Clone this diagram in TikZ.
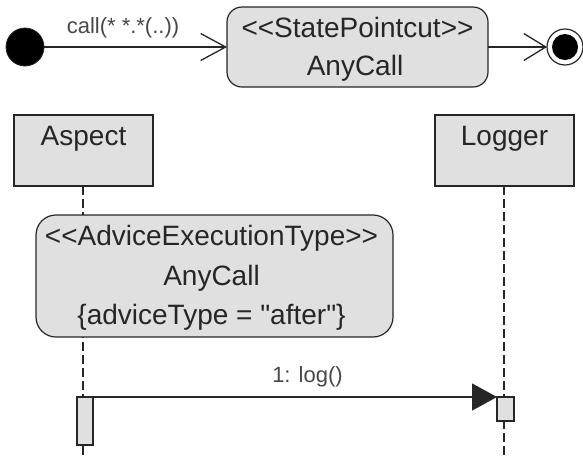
\documentclass[tikz,border=0pt]{standalone}
\usepackage{fontspec}
\newfontfamily\uml{Liberation Sans}
\usetikzlibrary{arrows.meta}
\definecolor{boxfill}{HTML}{E0E0E0}
\definecolor{ink}{HTML}{262626}
\begin{document}
\begin{tikzpicture}[x=1pt,y=-1pt,
 every node/.style={inner sep=0pt, outer sep=0pt},
 box/.style={draw=ink, fill=boxfill, line width=1.2pt},
 rbox/.style={box, rounded corners=15pt},
 txt/.style={anchor=base, text=ink, font=\uml\fontsize{28}{30}\selectfont},
 lbl/.style={anchor=base, text=ink!85, font=\uml\fontsize{22}{24}\selectfont},
 life/.style={draw=ink, line width=1.2pt, dash pattern=on 9pt off 4pt},
 conn/.style={draw=ink, line width=1.3pt},
]
\useasboundingbox (0,0) rectangle (583,456);
% state machine part
\node[circle, draw=ink, fill=black, line width=0.8pt, minimum size=38pt] (init) at (25,47) {};
\node[rbox, minimum width=261pt, minimum height=80pt] (sp) at (357.5,47) {};
\node[txt] (spa) at (357.5,37) {<<StatePointcut>>};
\node[txt] (spb) at (355,75) {AnyCall};
\node[circle, draw=ink, fill=white, line width=1.2pt, minimum size=36pt] (final) at (565,47) {};
\node[circle, fill=black, minimum size=26pt] (finalin) at (final) {};
\draw[conn, -{Straight Barb[length=25pt, width=27pt]}] (init) -- (sp);
\draw[conn, -{Straight Barb[length=22pt, width=27pt]}] (sp) -- (final);
\node[lbl] (call) at (123,33) {call(* *.*(..))};
% sequence part
\node[box, minimum width=139pt, minimum height=71pt] (aspect) at (83.5,150.5) {};
\node[txt] (aspectt) at (83.5,145) {Aspect};
\node[box, minimum width=139pt, minimum height=71pt] (logger) at (504.5,150.5) {};
\node[txt] (loggert) at (504.5,145) {Logger};
\coordinate (aend) at (83,456);
\coordinate (lend) at (504,456);
\draw[life] (aspect.south -| aend) -- (aend);
\draw[life] (logger.south -| lend) -- (lend);
\node[box, rounded corners=20pt, minimum width=357pt, minimum height=122pt] (adv) at (214.5,276) {};
\node[txt] (adva) at (211.5,245) {<<AdviceExecutionType>>};
\node[txt] (advb) at (211.5,285) {AnyCall};
\node[txt] (advc) at (211.5,324) {\{adviceType = "after"\}};
\node[box, minimum width=16pt, minimum height=48pt] (aact) at (85,421) {};
\node[box, minimum width=17pt, minimum height=24pt] (lact) at (505.5,409) {};
\draw[conn, -{Triangle[length=25pt, width=27pt]}] (aact.north east) -- (lact.north west);
\node[lbl] (msg) at (307.5,382) {1: log()};
\end{tikzpicture}
\end{document}
